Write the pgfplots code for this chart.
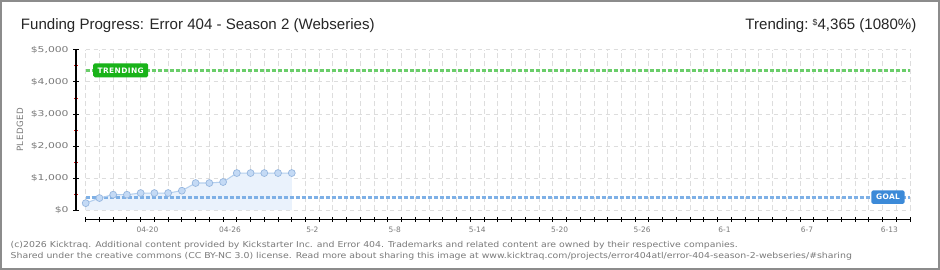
\documentclass[border=0pt]{standalone}
\usepackage{fontspec}
\usepackage{pgfplots}
\pgfplotsset{compat=1.18}
\setmainfont{Liberation Sans}
\newfontfamily\ytfont[FakeStretch=1.35]{DejaVu Sans}
\newfontfamily\xtfont{DejaVu Sans}
\newfontfamily\footfont[FakeStretch=1.15]{DejaVu Sans}
\newfontfamily\lblfont[LetterSpace=6]{DejaVu Sans}
\newfontfamily\boxfont[LetterSpace=5]{DejaVu Sans Bold}
\definecolor{tickgray}{HTML}{7A7A7A}
\definecolor{gridc}{HTML}{DDDDDD}
\definecolor{areablue}{HTML}{EAF2FC}
\definecolor{lineblue}{HTML}{B4CFEE}
\definecolor{markfill}{HTML}{C4DAF5}
\definecolor{markdraw}{HTML}{94B5DE}
\definecolor{goalblue}{HTML}{7EB0E6}
\definecolor{goalbox}{HTML}{3C8AD8}
\definecolor{trendgreen}{HTML}{6ACD6A}
\definecolor{trendbox}{HTML}{19B319}
\definecolor{minorred}{HTML}{E01010}
\begin{document}
\begin{tikzpicture}
\useasboundingbox (0,0) rectangle (705pt,202.5pt);
\fill[white] (0,0) rectangle (705pt,202.5pt);
\draw[color=black!45, line width=1.2pt] (0.6pt,0.6pt) rectangle (704.4pt,201.9pt);
\node[anchor=base west, inner sep=0, text=black!85, font=\fontsize{11.3}{13}\selectfont] at (15.5pt,180pt) {Funding Progress: Error 404 - Season 2 (Webseries)};
\node[anchor=base east, inner sep=0, text=black!85, font=\fontsize{11.3}{13}\selectfont] at (687.5pt,180pt) {Trending:\ \raisebox{3pt}{\fontsize{6.5}{7}\selectfont\$}4,365 (1080\%)};
\node[anchor=base west, inner sep=0, text=tickgray, font=\footfont\fontsize{6.1}{7}\selectfont] at (7.8pt,17pt) {(c)2026 Kicktraq. Additional content provided by Kickstarter Inc. and Error 404. Trademarks and related content are owned by their respective companies.};
\node[anchor=base west, inner sep=0, text=tickgray, font=\footfont\fontsize{6.1}{7}\selectfont] at (7.8pt,8.25pt) {Shared under the creative commons (CC BY-NC 3.0) license. Read more about sharing this image at www.kicktraq.com/projects/error404atl/error-404-season-2-webseries/\#sharing};
\node[rotate=90, inner sep=0, text=tickgray, font=\lblfont\fontsize{6.5}{7}\selectfont] at (15pt,105.2pt) {PLEDGED};
\begin{axis}[
  at={(57pt,38pt)}, anchor=south west,
  scale only axis, width=625.5pt, height=127pt,
  xmin=-0.706, xmax=60, ymin=-290, ymax=5000,
  axis line style={draw=none},
  clip=false,
  xtick={0,...,60},
  xticklabels={,,,,04-20,,,,,,04-26,,,,,,5-2,,,,,,5-8,,,,,,5-14,,,,,,5-20,,,,,,5-26,,,,,,6-1,,,,,,6-7,,,,,,6-13,,},
  ytick={0,1000,...,5000},
  yticklabels={{\$0},{\$1,000},{\$2,000},{\$3,000},{\$4,000},{\$5,000}},
  minor ytick={500,1500,...,4500},
  tick pos=left,
  tick align=center,
  major tick length=4pt,
  minor tick length=2.5pt,
  major tick style={black, line width=0.75pt},
  minor tick style={minorred, line width=0.75pt},
  xticklabel style={font=\xtfont\fontsize{5.6}{6}\selectfont, text=tickgray, xshift=5.15pt},
  yticklabel style={font=\ytfont\fontsize{6}{7}\selectfont, text=tickgray},
]
\pgfplotsinvokeforeach{0,...,60}{
  \draw[gridc, line width=0.75pt, dash pattern=on 3.5pt off 2.5pt] (axis cs:#1,0) -- (axis cs:#1,5000);
}
\pgfplotsinvokeforeach{0,1000,...,5000}{
  \draw[gridc, line width=0.75pt, dash pattern=on 3.5pt off 2.5pt] (axis cs:0,#1) -- (axis cs:60,#1);
}
\draw[black, line width=0.9pt] (axis cs:-0.706,0) -- (axis cs:-0.706,5000);
\draw[black, line width=0.9pt] (axis cs:0,-290) -- (axis cs:60,-290);
\addplot[fill=areablue, draw=none] coordinates {
  (0,0) (0,215) (1,375) (2,479) (3,479) (4,531) (5,531) (6,531) (7,604)
  (8,844) (9,844) (10,875) (11,1156) (12,1156) (13,1156) (14,1156) (15,1156) (15,0)
};
\addplot[trendgreen, line width=2.2pt, dash pattern=on 3.5pt off 1pt] coordinates {(0,4365) (60,4365)};
\addplot[goalblue, line width=2.2pt, dash pattern=on 3.5pt off 1pt] coordinates {(0,404) (60,404)};
\addplot[lineblue, line width=0.8pt, mark=*, mark size=2.6pt,
  mark options={fill=markfill, draw=markdraw, line width=0.5pt}] coordinates {
  (0,215) (1,375) (2,479) (3,479) (4,531) (5,531) (6,531) (7,604)
  (8,844) (9,844) (10,875) (11,1156) (12,1156) (13,1156) (14,1156) (15,1156)
};
\node[fill=trendbox, text=white, rounded corners=1.2pt, minimum width=41.25pt, minimum height=10.5pt, inner sep=0, font=\boxfont\fontsize{5.6}{6}\selectfont] at (axis cs:2.55,4365) {TRENDING};
\node[fill=goalbox, text=white, rounded corners=1.2pt, minimum width=25pt, minimum height=10pt, inner sep=0, font=\boxfont\fontsize{5.6}{6}\selectfont] at (axis cs:58.4,404) {GOAL};
\end{axis}
\end{tikzpicture}
\end{document}
